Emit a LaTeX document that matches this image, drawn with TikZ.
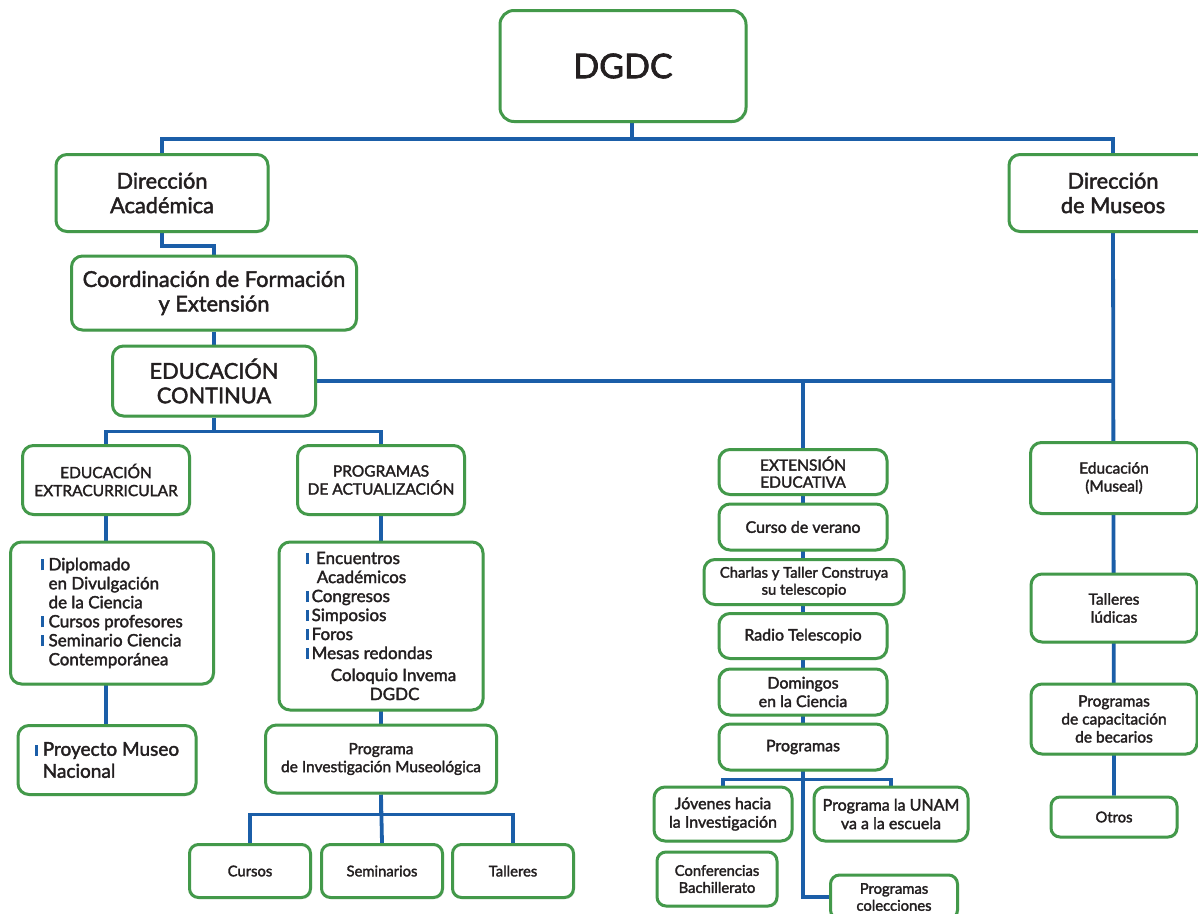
\documentclass[tikz,border=0pt]{standalone}
\usepackage{fontspec}
\setmainfont{Lato}[FakeBold=2]
\usetikzlibrary{positioning,backgrounds,shadows}
\definecolor{leaf}{HTML}{43994A}
\definecolor{navy}{HTML}{1B5EA8}
\definecolor{ink}{HTML}{231F20}

\newcommand{\bul}{{\color{navy}\rule{3pt}{11pt}}}
\newcommand{\ind}{\phantom{\bul\ }}

\begin{document}
\begin{tikzpicture}[
  x=1pt, y=-1pt,
  box/.style={draw=leaf, fill=white, line width=3pt, rounded corners=11pt,
              align=center, text=ink, inner sep=2pt,
              drop shadow={opacity=0.18, shadow xshift=1.5pt, shadow yshift=-1.5pt}},
  big/.style={box, font=\fontsize{21.8}{24.5}\selectfont},
  mid/.style={box, font=\fontsize{16}{18.5}\selectfont},
  small/.style={box, font=\fontsize{14.8}{17}\selectfont, rounded corners=9pt},
  list/.style={box, align=left, font=\fontsize{17}{19}\selectfont},
  link/.style={draw=navy, line width=3.8pt},
]
\useasboundingbox (0,0) rectangle (1198,913);

% top levels
\node[box, minimum width=246, minimum height=111, rounded corners=14pt,
      font=\fontsize{34}{38}\selectfont] (dgdc) at (623,66) {DGDC};
\node[big, minimum width=212, minimum height=77] (acad) at (162,193) {Dirección\\Académica};
\node[big, minimum width=208, minimum height=77] (museos) at (1113,193) {Dirección\\de Museos};
\node[big, minimum width=285, minimum height=74] (coord) at (214,293)
  {Coordinación de Formación\\y Extensión};
\node[big, minimum width=203, minimum height=70] (ec) at (214,381) {EDUCACIÓN\\CONTINUA};

% educacion continua, left branch
\node[mid, minimum width=167, minimum height=69, font=\fontsize{15.5}{18}\selectfont] (extra) at (106,480)
  {EDUCACIÓN\\EXTRACURRICULAR};
\node[mid, minimum width=167, minimum height=69, font=\fontsize{15.5}{18}\selectfont] (actual) at (381,480)
  {PROGRAMAS\\DE ACTUALIZACIÓN};
\node[list, minimum width=203, minimum height=142] (dipl) at (112,613)
  {\bul\ Diplomado\\ \ind en Divulgación\\ \ind de la Ciencia\\
   \bul\ Cursos profesores\\ \bul\ Seminario Ciencia\\ \ind Contemporánea};
\node[list, minimum width=178, minimum height=69, font=\fontsize{19}{22}\selectfont] (proy) at (107,760)
  {\bul\ Proyecto Museo\\ \ind Nacional};
\node[list, minimum width=204, minimum height=168] (encu) at (381,626)
  {\bul\ \,Encuentros\\ \hspace*{11pt}Académicos\\ \bul\,Congresos\\ \bul\,Simposios\\
   \bul\,Foros\\ \bul\,Mesas redondas\\[3pt] \hspace*{25pt}Coloquio Invema\\ \hspace*{64pt}DGDC};
\node[mid, minimum width=231, minimum height=68, font=\fontsize{15.5}{18}\selectfont] (invest) at (381,759)
  {Programa\\de Investigación Museológica};
\node[small, minimum width=121, minimum height=53] (cursos) at (250,871) {Cursos};
\node[small, minimum width=121, minimum height=53] (semin) at (382,871) {Seminarios};
\node[small, minimum width=121, minimum height=53] (talleres) at (513,871) {Talleres};

% extension educativa
\node[mid, minimum width=168, minimum height=45, font=\fontsize{15.5}{17}\selectfont] (ext) at (803,472)
  {EXTENSIÓN\\EDUCATIVA};
\node[mid, minimum width=168, minimum height=46] (verano) at (803,527) {Curso de verano};
\node[mid, minimum width=200, minimum height=45, font=\fontsize{14.8}{17}\selectfont] (charlas) at (804,582)
  {Charlas y Taller Construya\\su telescopio};
\node[mid, minimum width=168, minimum height=45] (radio) at (803,636) {Radio Telescopio};
\node[mid, minimum width=168, minimum height=46] (domingos) at (803,692) {Domingos\\en la Ciencia};
\node[mid, minimum width=168, minimum height=46] (prog) at (803,747) {Programas};
\node[mid, minimum width=138, minimum height=54] (jov) at (723,814) {Jóvenes hacia\\la Investigación};
\node[mid, minimum width=154, minimum height=54] (unam) at (891,814) {Programa la UNAM\\va a la escuela};
\node[small, minimum width=120, minimum height=54] (conf) at (717,879) {Conferencias\\Bachillerato};
\node[small, minimum width=127, minimum height=44] (colec) at (894,897) {Programas\\colecciones};

% museos
\node[mid, minimum width=167, minimum height=71, font=\fontsize{15.5}{18}\selectfont] (museal) at (1114,478)
  {Educación\\(Museal)};
\node[mid, minimum width=166, minimum height=68, font=\fontsize{15.5}{18}\selectfont] (ludicas) at (1114,608)
  {Talleres\\lúdicas};
\node[mid, minimum width=166, minimum height=70, font=\fontsize{15.5}{18}\selectfont] (capac) at (1114,719)
  {Programas\\de capacitación\\de becarios};
\node[small, minimum width=126, minimum height=40] (otros) at (1114,817) {Otros};

\begin{scope}[on background layer]
  \fill[white] (0,0) rectangle (1198,913);
  \coordinate (bus) at (632,139);
  \draw[link] (bus |- dgdc.south) -- (bus);
  \draw[link] (acad.north) |- (bus) -| (museos.north);
  \draw[link] (museos.south) -- (otros.north);
  \draw[link] (acad.south) -- ++(0,13) -| (coord.north);
  \draw[link] (coord.south) -- (ec.north);
  \draw[link] (ec.east) -- (ec.east -| museos.south);
  \draw[link] (ec.south) -- ++(0,14) -| (extra.north);
  \draw[link] (ec.south) ++(0,14) -| (actual.north);
  \draw[link] (extra.south) -- (extra.south |- proy.north);
  \draw[link] (actual.south) -- (invest.north);
  \draw[link] (invest.south) -- ++(0,20) -| (cursos.north);
  \draw[link] (invest.south) ++(0,20) -| (talleres.north);
  \draw[link] (invest.south) -- (semin.north);
  \draw[link] (ec.east -| ext.north) -- (ext.north);
  \draw[link] (ext.south) -- (ext.south |- colec.west) -- (colec.west);
  \draw[link] (prog.south) -- ++(0,8) -| (jov.north);
  \draw[link] (prog.south) ++(0,8) -| (unam.north);
\end{scope}
\end{tikzpicture}
\end{document}
